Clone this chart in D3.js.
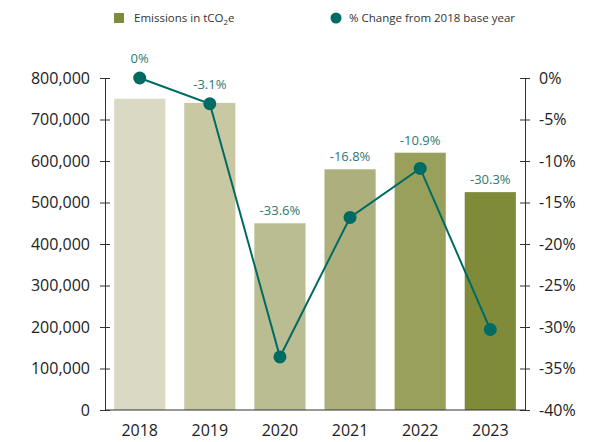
<!DOCTYPE html>
<html>
<head>
<meta charset="utf-8">
<script src="https://d3js.org/d3.v7.min.js"></script>
<style>
  body { margin: 0; background: #fff; font-family: "Open Sans", sans-serif; }
  .axis path, .axis line { stroke: #333; stroke-width: 1px; }
  .axis text { font-size: 16px; fill: #222; font-family: "Open Sans", sans-serif; }
</style>
</head>
<body>
<div id="chart"></div>
<script>
var years = ['2018', '2019', '2020', '2021', '2022', '2023'];
var emissions = [750000, 740000, 450000, 580000, 620000, 525000];
var pctChange = [0, -3.1, -33.6, -16.8, -10.9, -30.3];
var barColors = ['#d9d9c4', '#c8c8a3', '#babd91', '#adb07d', '#99a05b', '#808b39'];
var leftTicks = [0, 100000, 200000, 300000, 400000, 500000, 600000, 700000, 800000];
var rightTicks = [0, -5, -10, -15, -20, -25, -30, -35, -40];

var width = 594, height = 442;
var plotLeft = 105, plotRight = 525, plotTop = 78, plotBottom = 410;
var lineColor = '#006b63';

var svg = d3.select('#chart').append('svg')
    .attr('width', width)
    .attr('height', height);

var x = d3.scaleBand()
    .domain(years)
    .range([plotLeft, plotRight])
    .paddingInner(0.27)
    .paddingOuter(0.13);

var y = d3.scaleLinear()
    .domain([0, 800000])
    .range([plotBottom, plotTop]);

var y2 = d3.scaleLinear()
    .domain([-40, 0])
    .range([plotBottom, plotTop]);

function cx(i) { return x(years[i]) + x.bandwidth() / 2; }

// bars
svg.selectAll('rect.bar')
    .data(years)
  .enter().append('rect')
    .attr('class', 'bar')
    .attr('x', function (d) { return x(d); })
    .attr('width', x.bandwidth())
    .attr('y', function (d, i) { return y(emissions[i]); })
    .attr('height', function (d, i) { return plotBottom - y(emissions[i]); })
    .attr('fill', function (d, i) { return barColors[i]; });

// axes
var fmt = d3.format(',');
svg.append('g')
    .attr('class', 'axis')
    .attr('transform', 'translate(' + plotLeft + ',0)')
    .call(d3.axisLeft(y).tickValues(leftTicks).tickFormat(fmt).tickSize(5).tickSizeOuter(0).tickPadding(10))
  .selectAll('.tick line').attr('x2', 5).attr('x1', -5);

svg.append('g')
    .attr('class', 'axis')
    .attr('transform', 'translate(' + plotRight + ',0)')
    .call(d3.axisRight(y2).tickValues(rightTicks).tickFormat(function (d) { return d + '%'; }).tickSize(5).tickSizeOuter(0).tickPadding(9))
  .selectAll('.tick line').attr('x1', -5).attr('x2', 5);

var xAxis = svg.append('g')
    .attr('class', 'axis')
    .attr('transform', 'translate(0,' + plotBottom + ')')
    .call(d3.axisBottom(x).tickSize(0).tickSizeOuter(0).tickPadding(15));
xAxis.select('.domain').attr('d', 'M' + plotLeft + ',0H' + plotRight);

// line
var line = d3.line()
    .x(function (d, i) { return cx(i); })
    .y(function (d) { return y2(d); });

svg.append('path')
    .datum(pctChange)
    .attr('d', line)
    .attr('fill', 'none')
    .attr('stroke', lineColor)
    .attr('stroke-width', 2);

svg.selectAll('circle.pt')
    .data(pctChange)
  .enter().append('circle')
    .attr('class', 'pt')
    .attr('cx', function (d, i) { return cx(i); })
    .attr('cy', function (d) { return y2(d); })
    .attr('r', 6.5)
    .attr('fill', lineColor);

// labels sit above whichever is higher: the bar or the point
svg.selectAll('text.lbl')
    .data(pctChange)
  .enter().append('text')
    .attr('class', 'lbl')
    .attr('x', function (d, i) { return cx(i); })
    .attr('y', function (d, i) { return Math.min(y(emissions[i]), y2(d) - 7) - 8; })
    .attr('text-anchor', 'middle')
    .attr('font-size', 13)
    .attr('fill', '#2a7a72')
    .text(function (d) { return d + '%'; });

// legend
var lg = svg.append('g').attr('font-size', 11.5).attr('fill', '#333');
lg.append('rect')
    .attr('x', 114).attr('y', 13).attr('width', 10).attr('height', 10)
    .attr('fill', '#808b39');
var t1 = lg.append('text').attr('x', 134).attr('y', 22);
t1.append('tspan').text('Emissions in tCO');
t1.append('tspan').attr('font-size', 8).attr('dy', 3).text('2');
t1.append('tspan').attr('dy', -3).text('e');
lg.append('circle')
    .attr('cx', 336).attr('cy', 18).attr('r', 5.5)
    .attr('fill', lineColor);
lg.append('text').attr('x', 349).attr('y', 22).text('% Change from 2018 base year');
</script>
</body>
</html>
